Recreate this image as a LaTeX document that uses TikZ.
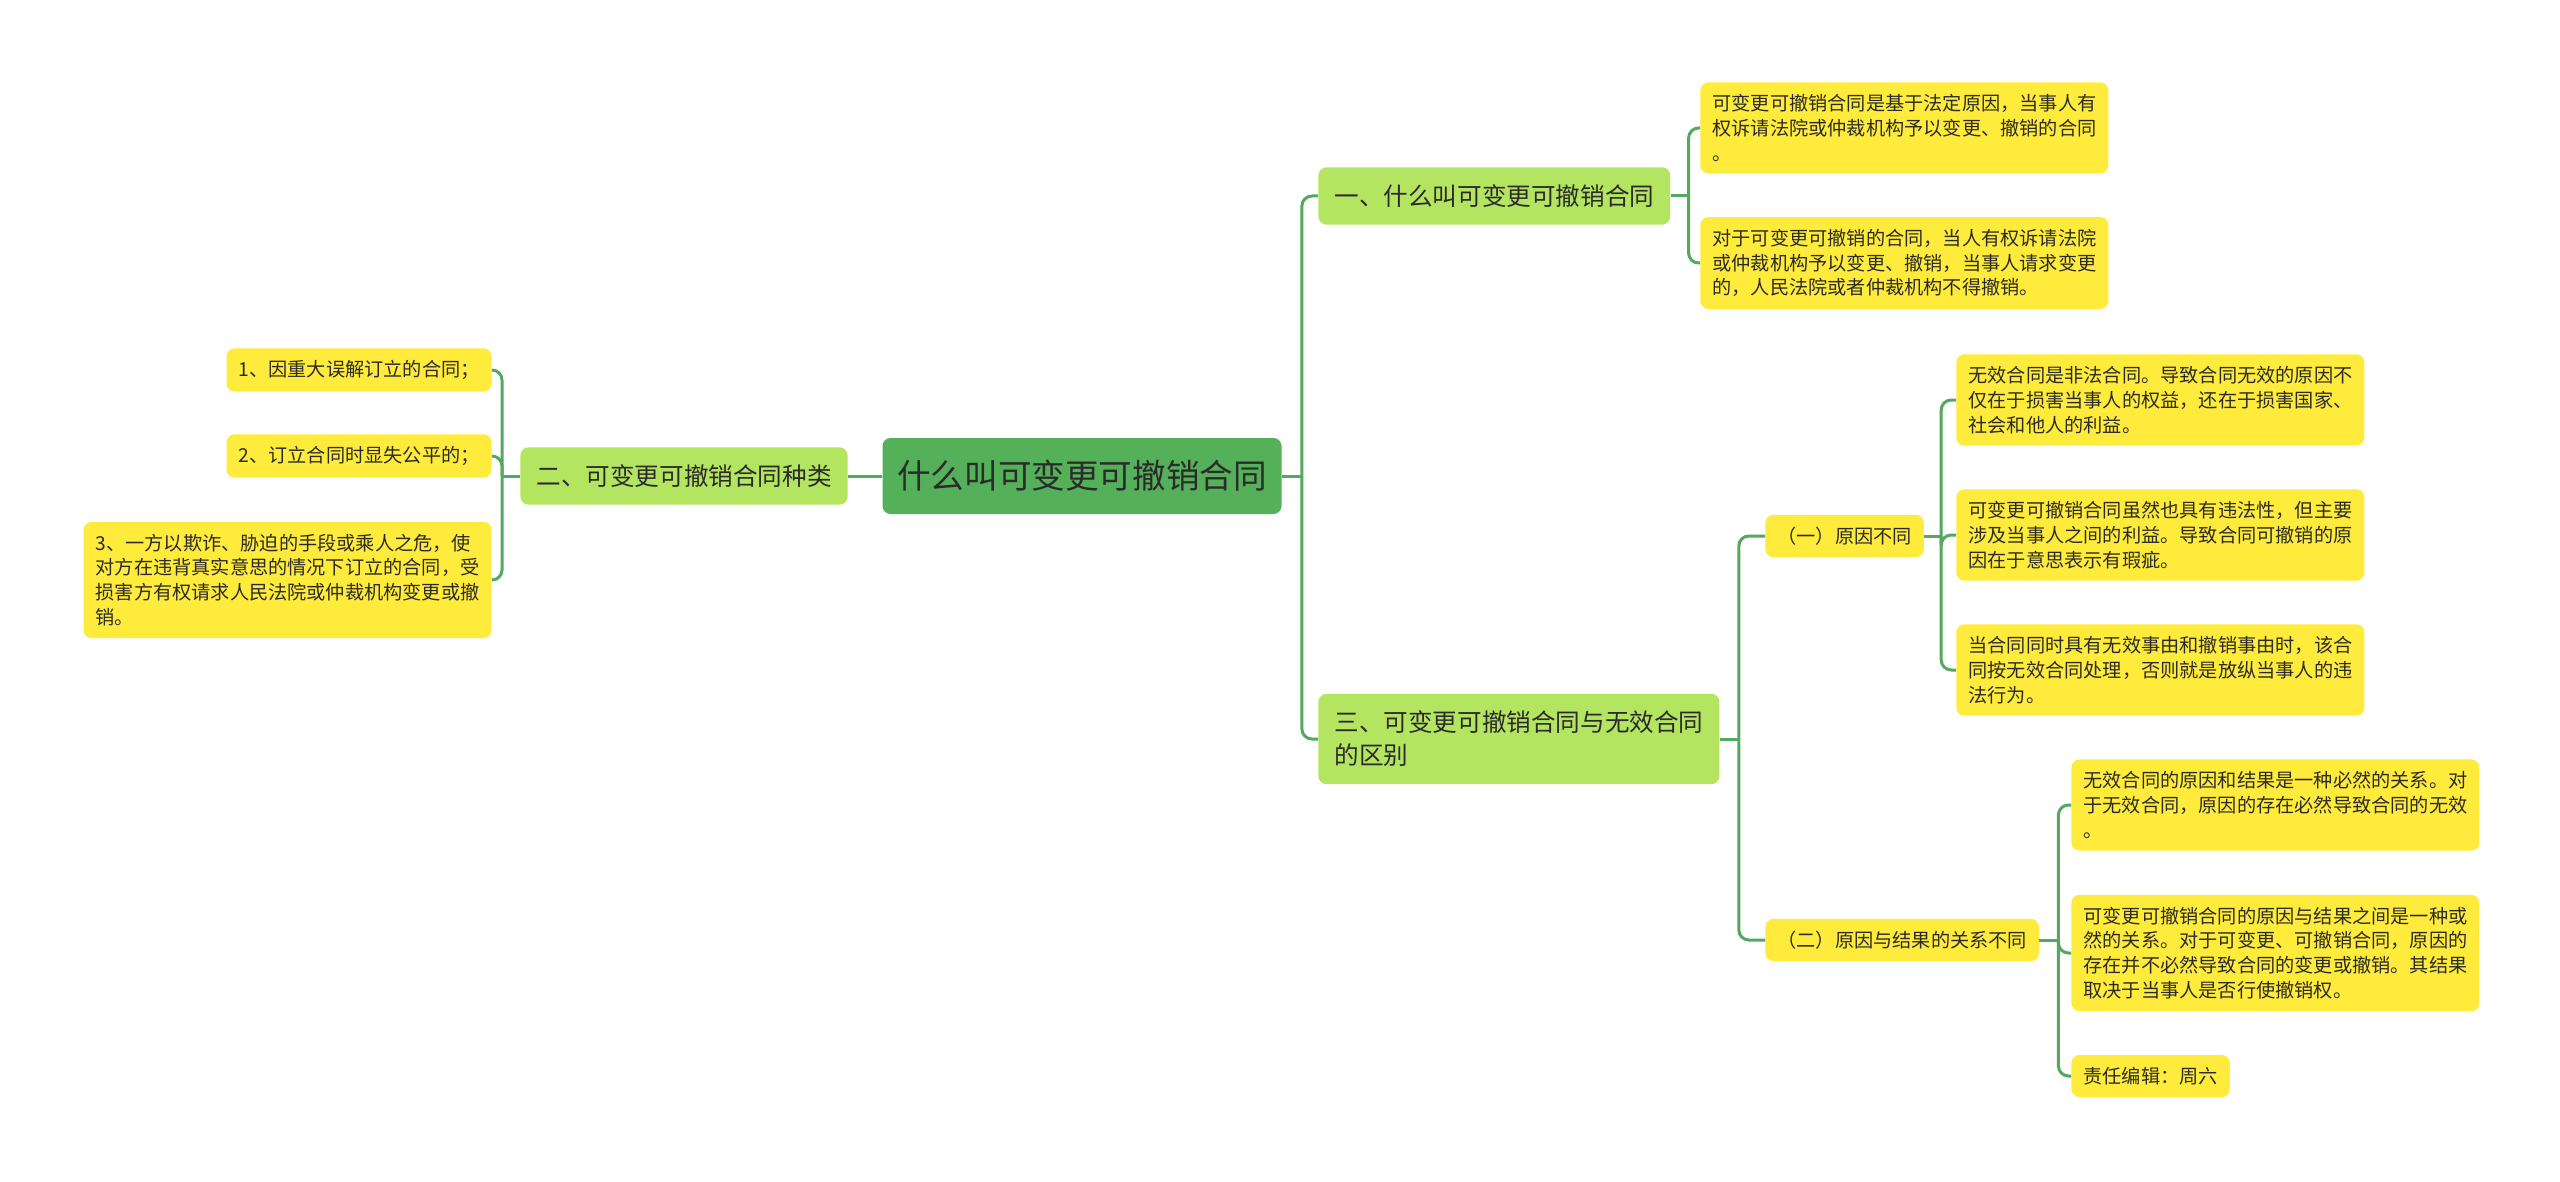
\documentclass[tikz,border=0pt]{standalone}
\usepackage{fontspec}
\setmainfont{Noto Sans CJK SC}
\usetikzlibrary{shapes,arrows,positioning}
\definecolor{rootgreen}{HTML}{55B05A}
\definecolor{topicgreen}{HTML}{B4E561}
\definecolor{noteyellow}{HTML}{FFEB3B}
\definecolor{linkgreen}{HTML}{55A860}
\definecolor{inkgray}{HTML}{2B2B2B}

\begin{document}
\begin{tikzpicture}[x=0.5pt, y=-0.5pt, text=inkgray,
    rootbox/.style={rectangle, rounded corners=4pt, fill=rootgreen,
                    minimum width=199.5pt, minimum height=38pt,
                    font=\fontsize{16.8}{20}\selectfont},
    topic/.style={rectangle, rounded corners=4pt, fill=topicgreen,
                  inner xsep=8pt, inner ysep=8.6pt, align=left,
                  font=\fontsize{12.3}{16.5}\selectfont},
    note/.style={rectangle, rounded corners=4pt, fill=noteyellow,
                 inner xsep=6pt, inner ysep=6pt, align=left,
                 font=\fontsize{9.6}{12.4}\selectfont},
    para/.style={note, text width=192pt},
    link/.style={draw=linkgreen, line width=1.5pt, rounded corners=5pt}]

\useasboundingbox (0,0) rectangle (2560,1182);

\node[rootbox] (root) at (1082,476) {什么叫可变更可撤销合同};

\node[topic, anchor=east] (kinds) at (848,476) {二、可变更可撤销合同种类};
\node[note, anchor=east]  (k1) at (492,370) {1、因重大误解订立的合同；};
\node[note, anchor=east]  (k2) at (492,456) {2、订立合同时显失公平的；};
\node[para, anchor=east]  (k3) at (492,580)
    {3、一方以欺诈、胁迫的手段或乘人之危，使\\对方在违背真实意思的情况下订立的合同，受\\损害方有权请求人民法院或仲裁机构变更或撤\\销。};

\node[topic, anchor=west] (what) at (1318,196) {一、什么叫可变更可撤销合同};
\node[para, anchor=west]  (w1) at (1700,128)
    {可变更可撤销合同是基于法定原因，当事人有\\权诉请法院或仲裁机构予以变更、撤销的合同\\。};
\node[para, anchor=west]  (w2) at (1700,263)
    {对于可变更可撤销的合同，当人有权诉请法院\\或仲裁机构予以变更、撤销，当事人请求变更\\的，人民法院或者仲裁机构不得撤销。};

\node[topic, anchor=west] (diff) at (1318,739) {三、可变更可撤销合同与无效合同\\的区别};
\node[note, anchor=west]  (cause) at (1765,536) {（一）原因不同};
\node[para, anchor=west]  (c1) at (1956,400)
    {无效合同是非法合同。导致合同无效的原因不\\仅在于损害当事人的权益，还在于损害国家、\\社会和他人的利益。};
\node[para, anchor=west]  (c2) at (1956,535)
    {可变更可撤销合同虽然也具有违法性，但主要\\涉及当事人之间的利益。导致合同可撤销的原\\因在于意思表示有瑕疵。};
\node[para, anchor=west]  (c3) at (1956,670)
    {当合同同时具有无效事由和撤销事由时，该合\\同按无效合同处理，否则就是放纵当事人的违\\法行为。};

\node[note, anchor=west]  (effect) at (1765,940) {（二）原因与结果的关系不同};
\node[para, anchor=west]  (e1) at (2071,805)
    {无效合同的原因和结果是一种必然的关系。对\\于无效合同，原因的存在必然导致合同的无效\\。};
\node[para, anchor=west]  (e2) at (2071,953)
    {可变更可撤销合同的原因与结果之间是一种或\\然的关系。对于可变更、可撤销合同，原因的\\存在并不必然导致合同的变更或撤销。其结果\\取决于当事人是否行使撤销权。};
\node[note, anchor=west]  (e3) at (2071,1076) {责任编辑：周六};

\draw[link] (root.west) -- (kinds.east);
\draw[link] (kinds.west) -- ++(-18,0) coordinate (kindsfork);
\foreach \n in {k1,k2,k3}
    \draw[link] (kindsfork) |- (\n.east);

\draw[link] (root.east) -- ++(20,0) coordinate (rootfork);
\draw[link] (rootfork) |- (what.west);
\draw[link] (rootfork) |- (diff.west);

\draw[link] (what.east) -- ++(18,0) coordinate (whatfork);
\foreach \n in {w1,w2}
    \draw[link] (whatfork) |- (\n.west);

\draw[link] (diff.east) -- ++(19,0) coordinate (difffork);
\draw[link] (difffork) |- (cause.west);
\draw[link] (difffork) |- (effect.west);

\draw[link] (cause.east) -- ++(17,0) coordinate (causefork);
\foreach \n in {c1,c2,c3}
    \draw[link] (causefork) |- (\n.west);

\draw[link] (effect.east) -- ++(19,0) coordinate (effectfork);
\foreach \n in {e1,e2,e3}
    \draw[link] (effectfork) |- (\n.west);

\end{tikzpicture}
\end{document}
